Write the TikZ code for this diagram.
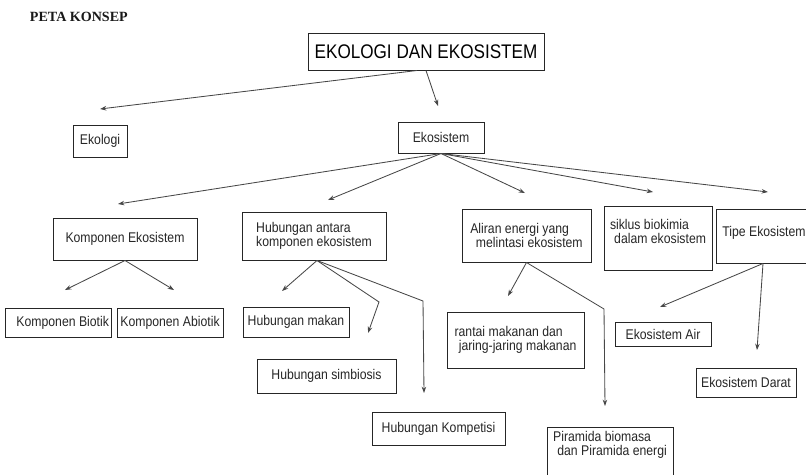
\documentclass[tikz,border=0pt]{standalone}
\usepackage{fontspec}
\setmainfont{Liberation Sans}[FakeStretch=0.87]
\newfontfamily\serifjudul{Liberation Serif}
\usetikzlibrary{arrows.meta,calc,positioning}
\def\px{0.025cm}
\tikzset{
	kotak/.style={draw=black!85, line width=0.7pt, inner sep=1.5pt, text=black!85,
		font=\fontsize{10}{10}\selectfont},
	panah/.style={draw=black!72, line width=0.6pt, -{Stealth[length=4.5pt,width=3.2pt]}},
	garis/.style={draw=black!72, line width=0.6pt}
}

\begin{document}
\begin{tikzpicture}[x=\px,y=-\px]
                        \useasboundingbox (0,0) rectangle (806,474);
                        \clip (0,0) rectangle (806,474);

                        % Marking title
                        \node [anchor=west, font=\serifjudul\bfseries\fontsize{10}{10}\selectfont, text=black!90] (peta) at (25,17) {PETA KONSEP};%

                        % Marking box EKOLOGI DAN EKOSISTEM
                        \node [kotak, text=black, minimum width=236*\px, minimum height=37*\px, font=\fontsize{14}{14}\selectfont] (judul) at (426,51.5) {EKOLOGI DAN EKOSISTEM};%

                        % Marking box Ekologi and Ekosistem
                        \node [kotak, minimum width=54*\px, minimum height=32*\px] (ekologi) at (100,141) {Ekologi};%
                        \node [kotak, minimum width=86*\px, minimum height=31*\px] (ekosistem) at (441,137.5) {Ekosistem};%

                        % Marking boxes of the second level
                        \node [kotak, minimum width=144*\px, minimum height=42*\px] (komponen) at (125,239) {Komponen Ekosistem};%
                        \node [kotak, minimum width=144*\px, minimum height=48*\px, align=left] (hubungan) at (314,236) {Hubungan antara\\komponen ekosistem};%
                        \node [kotak, minimum width=129*\px, minimum height=53*\px, align=left] (aliran) at (526.5,235.5) {Aliran energi yang\\\hspace*{4pt}melintasi ekosistem};%
                        \node [kotak, minimum width=108*\px, minimum height=64*\px, align=left, text depth=9pt] (siklus) at (658,238) {siklus biokimia\\\hspace*{3pt}dalam ekosistem};%
                        \node [kotak, minimum width=96*\px, minimum height=54*\px, text depth=7pt] (tipe) at (764,236) {Tipe Ekosistem};%

                        % Marking boxes under Komponen Ekosistem
                        \node [kotak, minimum width=105*\px, minimum height=29*\px] (biotik) at (58.5,322.5) {\hspace*{6pt}Komponen Biotik};%
                        \node [kotak, minimum width=106*\px, minimum height=29*\px] (abiotik) at (170,322.5) {Komponen Abiotik};%

                        % Marking boxes under Hubungan antara komponen ekosistem
                        \node [kotak, minimum width=106*\px, minimum height=30*\px] (makan) at (296,322) {Hubungan makan};%
                        \node [kotak, minimum width=139*\px, minimum height=34*\px] (simbiosis) at (326.5,376) {Hubungan simbiosis};%
                        \node [kotak, minimum width=133*\px, minimum height=33*\px] (kompetisi) at (438.5,428.5) {Hubungan Kompetisi};%

                        % Marking boxes under Aliran energi
                        \node [kotak, minimum width=137*\px, minimum height=56*\px, align=left] (rantai) at (515.5,340) {rantai makanan dan\\\hspace*{3pt}jaring-jaring makanan};%
                        \node [kotak, anchor=north, minimum width=126*\px, inner ysep=2.5pt, align=left, text depth=30pt] (piramida) at (610,427) {Piramida biomasa\\\hspace*{3pt}dan Piramida energi};%

                        % Marking boxes under Tipe Ekosistem
                        \node [kotak, minimum width=96*\px, minimum height=24*\px] (air) at (663,334) {Ekosistem Air};%
                        \node [kotak, minimum width=100*\px, minimum height=29*\px] (darat) at (746,382.5) {Ekosistem Darat};%

                        % Free ends of the arrows
                        \coordinate (tEkologi) at (100,109);
                        \coordinate (tEkosistem) at (438,106);
                        \coordinate (tKomponen) at (118,204);
                        \coordinate (tHubungan) at (328,200);
                        \coordinate (tAliran) at (525,193);
                        \coordinate (tSiklus) at (653,192);
                        \coordinate (tTipe) at (768,192);
                        \coordinate (tBiotik) at (65,290);
                        \coordinate (tAbiotik) at (174,290);
                        \coordinate (tMakan) at (282,291);
                        \coordinate (bSimbiosis) at (379,302);
                        \coordinate (tSimbiosis) at (368,333);
                        \coordinate (bKompetisi) at (423,301);
                        \coordinate (tKompetisi) at (424,393);
                        \coordinate (tRantai) at (508,296);
                        \coordinate (bPiramida) at (604,309);
                        \coordinate (tPiramida) at (605,406);
                        \coordinate (tAir) at (660,307);
                        \coordinate (tDarat) at (757,350);

                        % Drawing arrows judul
                        \draw [panah] ($(judul.south)+(-9,0)$) -- (tEkologi);%
                        \draw [panah] (judul.south) -- (tEkosistem);%

                        % Drawing arrows ekosistem
                        \draw [panah] (ekosistem.south) -- (tKomponen);%
                        \draw [panah] (ekosistem.south) -- (tHubungan);%
                        \draw [panah] (ekosistem.south) -- (tAliran);%
                        \draw [panah] (ekosistem.south) -- (tSiklus);%
                        \draw [panah] (ekosistem.south) -- (tTipe);%

                        % Drawing arrows komponen
                        \draw [panah] (komponen.south) -- (tBiotik);%
                        \draw [panah] (komponen.south) -- (tAbiotik);%

                        % Drawing arrows hubungan
                        \draw [panah] ($(hubungan.south)+(3,0)$) -- (tMakan);%
                        \draw [panah] ($(hubungan.south)+(3,0)$) -- (bSimbiosis) -- (tSimbiosis);%
                        \draw [panah] ($(hubungan.south)+(3,0)$) -- (bKompetisi) -- (tKompetisi);%

                        % Drawing arrows aliran
                        \draw [panah] (aliran.south) -- (tRantai);%
                        \draw [panah] (aliran.south) -- (bPiramida) -- (tPiramida);%

                        % Drawing arrows tipe
                        \draw [panah] ($(tipe.south)+(-1,0)$) -- (tAir);%
                        \draw [panah] ($(tipe.south)+(-1,0)$) -- (tDarat);%
\end{tikzpicture}
\end{document}
